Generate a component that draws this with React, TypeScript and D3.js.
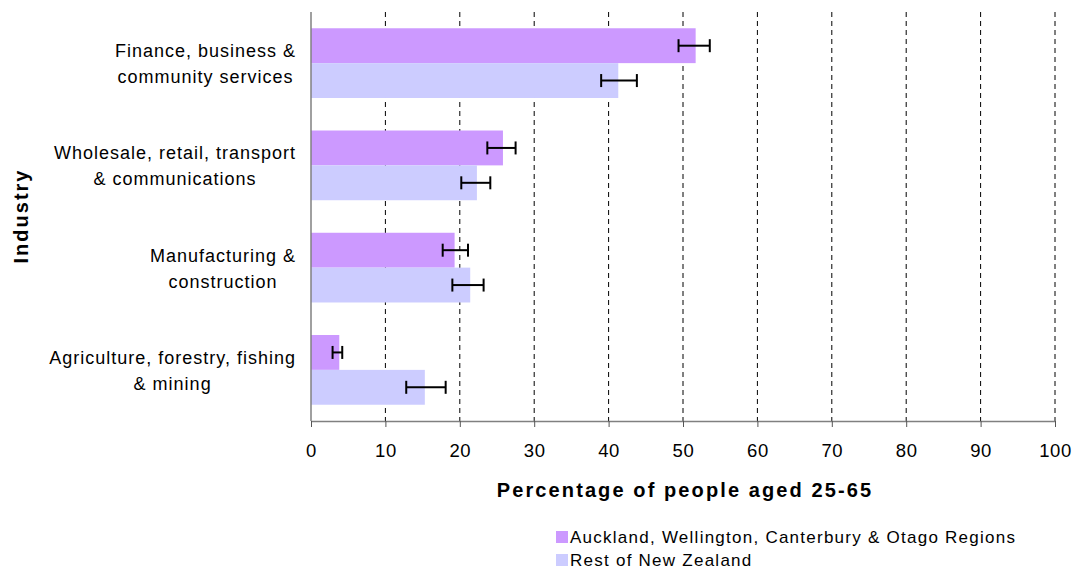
import React, { useEffect, useRef } from "react";
import * as d3 from "d3";

const categories: string[][] = [
  ["Finance, business &", "community services"],
  ["Wholesale, retail, transport", "& communications"],
  ["Manufacturing &", "construction"],
  ["Agriculture, forestry, fishing", "& mining"],
];
const seriesNames = [
  "Auckland, Wellington, Canterbury & Otago Regions",
  "Rest of New Zealand",
];
const seriesColors = ["#CC99FF", "#CCCCFF"];
const mainValues = [51.7, 25.8, 19.3, 3.8];
const mainLow = [49.4, 23.7, 17.7, 2.9];
const mainHigh = [53.6, 27.5, 21.1, 4.2];
const restValues = [41.3, 22.3, 21.4, 15.3];
const restLow = [39.0, 20.2, 19.0, 12.8];
const restHigh = [43.8, 24.1, 23.2, 18.1];
const xTicks = [0, 10, 20, 30, 40, 50, 60, 70, 80, 90, 100];
const xTitle = "Percentage of people aged 25-65";
const yTitle = "Industry";

const W = 1077;
const H = 574;
const FONT = "'Liberation Sans', Arial, sans-serif";

export default function App() {
  const ref = useRef<SVGSVGElement | null>(null);

  useEffect(() => {
    const svg = d3.select(ref.current!);
    svg.selectAll("*").remove();

    const left = 311, right = 1055, top = 12, bottom = 421;
    const x = d3.scaleLinear().domain([0, 100]).range([left, right]);
    const y = d3
      .scaleBand<number>()
      .domain(d3.range(categories.length))
      .range([top, bottom])
      .paddingInner(0.318)
      .paddingOuter(0.159);
    const sub = d3.scaleBand<number>().domain([0, 1]).range([0, y.bandwidth()]);

    // gridlines
    svg
      .append("g")
      .selectAll("line")
      .data(xTicks.filter((t) => t > 0))
      .join("line")
      .attr("x1", (d) => x(d))
      .attr("x2", (d) => x(d))
      .attr("y1", top)
      .attr("y2", bottom)
      .attr("stroke", "#000")
      .attr("stroke-width", 1)
      .attr("stroke-dasharray", "5,4");

    const series = [
      { v: mainValues, lo: mainLow, hi: mainHigh },
      { v: restValues, lo: restLow, hi: restHigh },
    ];

    series.forEach((s, si) => {
      const g = svg.append("g");
      g.selectAll("rect")
        .data(s.v)
        .join("rect")
        .attr("x", x(0))
        .attr("y", (_, i) => y(i)! + sub(si)!)
        .attr("width", (d) => x(d) - x(0))
        .attr("height", sub.bandwidth())
        .attr("fill", seriesColors[si]);
    });

    series.forEach((s, si) => {
      const g = svg.append("g").attr("stroke", "#000").attr("stroke-width", 2);
      s.v.forEach((_, i) => {
        const cy = y(i)! + sub(si)! + sub.bandwidth() / 2;
        g.append("line").attr("x1", x(s.lo[i])).attr("x2", x(s.hi[i])).attr("y1", cy).attr("y2", cy);
        [s.lo[i], s.hi[i]].forEach((v) =>
          g.append("line").attr("x1", x(v)).attr("x2", x(v)).attr("y1", cy - 6.5).attr("y2", cy + 6.5)
        );
      });
    });

    // axes lines
    svg
      .append("line")
      .attr("x1", left)
      .attr("x2", left)
      .attr("y1", top)
      .attr("y2", bottom)
      .attr("stroke", "#808080")
      .attr("stroke-width", 1.5);
    const xAxis = d3.axisBottom(x).tickValues(xTicks).tickSize(6).tickSizeOuter(0).tickPadding(17);
    const ax = svg.append("g").attr("transform", `translate(0,${bottom})`).call(xAxis);
    ax.select(".domain").attr("stroke", "#808080").attr("stroke-width", 1.5);
    ax.selectAll(".tick line").attr("stroke", "#555");
    ax.selectAll("text")
      .attr("font-family", FONT)
      .attr("font-size", 18.5)
      .attr("letter-spacing", 0.6)
      .attr("fill", "#000");

    // category labels
    categories.forEach((lines, i) => {
      const cy = y(i)! + y.bandwidth() / 2;
      const g = svg.append("g");
      const texts = lines.map((ln, li) =>
        g
          .append("text")
          .attr("font-family", FONT)
          .attr("font-size", 18)
          .attr("letter-spacing", 1.0)
          .attr("text-anchor", "middle")
          .attr("y", cy - 6 + li * 26)
          .attr("fill", "#000")
          .text(ln)
      );
      const widths = texts.map((t) => (t.node() as SVGTextElement).getComputedTextLength());
      const maxW = Math.max(...widths);
      texts.forEach((t) => t.attr("x", 296 - maxW / 2));
    });

    // axis titles
    svg
      .append("text")
      .attr("x", (left + right) / 2 + 2)
      .attr("y", 497)
      .attr("text-anchor", "middle")
      .attr("font-family", FONT)
      .attr("font-weight", "bold")
      .attr("font-size", 20)
      .attr("letter-spacing", 2.1)
      .text(xTitle);
    svg
      .append("text")
      .attr("transform", `translate(28,216) rotate(-90)`)
      .attr("text-anchor", "middle")
      .attr("font-family", FONT)
      .attr("font-weight", "bold")
      .attr("font-size", 20)
      .attr("letter-spacing", 2)
      .text(yTitle);

    // legend
    const lg = svg.append("g").attr("transform", "translate(556,531)");
    seriesNames.forEach((name, i) => {
      lg.append("rect")
        .attr("x", 0)
        .attr("y", i * 23)
        .attr("width", 12)
        .attr("height", 12)
        .attr("fill", seriesColors[i]);
      lg.append("text")
        .attr("x", 14)
        .attr("y", i * 23 + 12)
        .attr("font-family", FONT)
        .attr("font-size", 17)
        .attr("letter-spacing", 1.25)
        .attr("fill", "#000")
        .text(name);
    });
  }, []);

  return (
    <svg
      ref={ref}
      width={W}
      height={H}
      style={{ position: "absolute", left: 0, top: 0, background: "#fff" }}
    />
  );
}
